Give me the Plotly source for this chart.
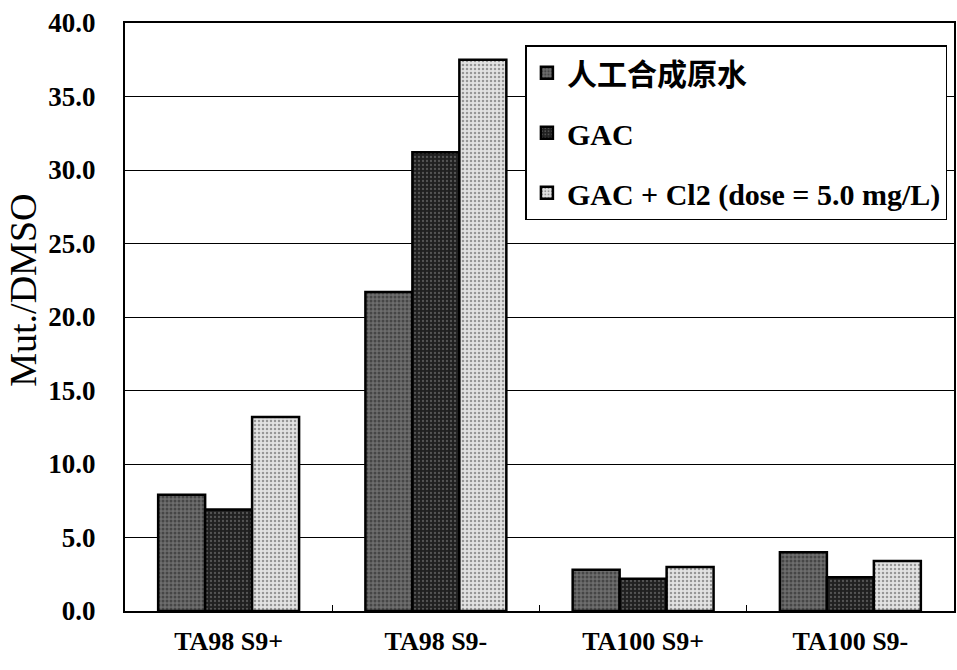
import plotly.graph_objects as go

categories = ["TA98 S9+", "TA98 S9-", "TA100 S9+", "TA100 S9-"]
series_names = ["人工合成原水", "GAC", "GAC + Cl2 (dose = 5.0 mg/L)"]
raw_water = [7.9, 21.7, 2.8, 4.0]
gac = [6.9, 31.2, 2.2, 2.3]
gac_cl2 = [13.2, 37.5, 3.0, 3.4]
y_ticks = [0, 5, 10, 15, 20, 25, 30, 35, 40]

serif = "Liberation Serif"
styles = [
    dict(bg="#6e6e6e", fg="#1e1e1e", solidity=0.45),
    dict(bg="#202020", fg="#8a8a8a", solidity=0.25),
    dict(bg="#e2e2e2", fg="#4a4a4a", solidity=0.3),
]

fig = go.Figure()
for i, (name, vals) in enumerate(zip(series_names, [raw_water, gac, gac_cl2])):
    st = styles[i]
    fig.add_trace(go.Bar(
        x=categories, y=vals, name=name, legendgroup=f"g{i}",
        marker=dict(
            color=st["bg"],
            line=dict(color="black", width=2.5),
            pattern=dict(shape=".", fgcolor=st["fg"], bgcolor=st["bg"],
                         size=4, solidity=st["solidity"], fillmode="overlay"),
        ),
    ))

fig.update_layout(
    width=957, height=670,
    margin=dict(l=125, r=3, t=23, b=59, autoexpand=False),
    plot_bgcolor="white", paper_bgcolor="white",
    barmode="group", bargap=0.32, bargroupgap=0,
    font=dict(family=serif, color="black", size=20),
    legend=dict(
        x=0.483, y=0.962, xanchor="left", yanchor="top",
        bgcolor="white", bordercolor="black", borderwidth=1.5,
        font=dict(family=f"{serif}, Noto Sans CJK TC", size=30, weight="bold"),
        tracegroupgap=18, itemwidth=30,
    ),
    showlegend=True,
)
# y-axis title drawn as an annotation so it can sit a bit above the plot centre
fig.add_annotation(
    text="Mut./DMSO", textangle=-90, xref="paper", yref="paper",
    x=-0.124, y=0.545, xanchor="center", yanchor="middle", showarrow=False,
    font=dict(family=serif, size=38, color="black"),
)
fig.update_xaxes(
    showline=True, linecolor="black", linewidth=2, mirror=True,
    ticks="inside", ticklen=6, tickcolor="black", tickson="boundaries",
    tickfont=dict(family=serif, size=26, weight="bold"),
    ticklabelstandoff=6,
)
fig.update_yaxes(
    range=[0, 40], tickvals=y_ticks,
    ticktext=[f"{v:.1f}" for v in y_ticks],
    showgrid=True, gridcolor="black", gridwidth=1.4,
    showline=True, linecolor="black", linewidth=2, mirror=True,
    tickfont=dict(family=serif, size=27, weight="bold"),
    ticklabelstandoff=22,
    zeroline=False,
)

fig.write_html("out.html")
